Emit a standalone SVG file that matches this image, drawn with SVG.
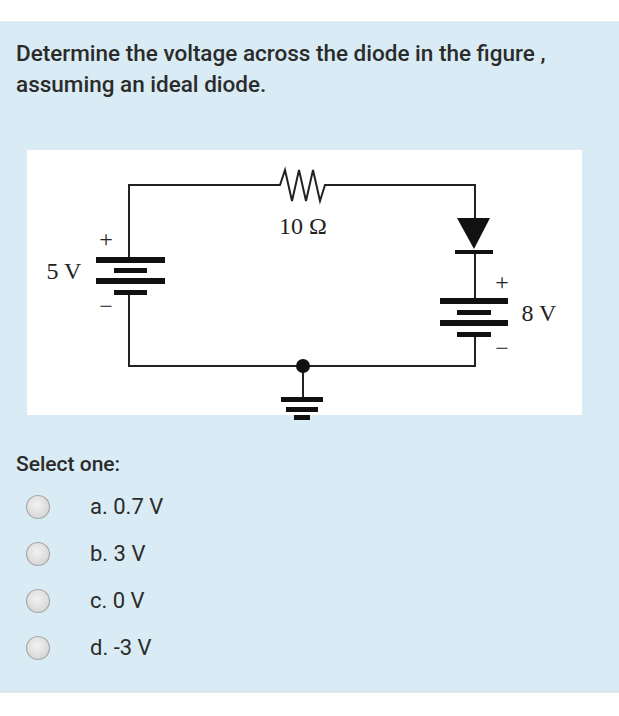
<svg xmlns="http://www.w3.org/2000/svg" width="619" height="716" viewBox="0 0 619 716">
<defs>
<style>
.q{font-family:Roboto,"Noto Sans",sans-serif;fill:#2b2b2b}
.t{font-family:"Liberation Serif",serif;fill:#222;font-size:24px}
.w{stroke:#222;stroke-width:2;fill:none}
.p{fill:#111}
</style>
<radialGradient id="rg" cx="0.45" cy="0.4" r="0.6"><stop offset="0" stop-color="#f2f2f2"/><stop offset="1" stop-color="#d6d6d6"/></radialGradient>
</defs>
<rect width="619" height="716" fill="#fff"/>
<rect x="0" y="22" width="619" height="670" fill="#d9ebf4"/>
<line x1="0" y1="22" x2="619" y2="22" stroke="#cfe0ea"/>
<line x1="0" y1="692" x2="619" y2="692" stroke="#c9d9e2"/>
<text class="q" x="16" y="61" font-size="22.5" font-weight="500">Determine the voltage across the diode in the figure ,</text>
<text class="q" x="16" y="92" font-size="22.5" font-weight="500">assuming an ideal diode.</text>
<rect x="27" y="150" width="555" height="265" fill="#fff"/>
<g id="wires">
<polyline class="w" points="129,260 129,185 275,185"/>
<polyline class="w" points="330,185 475,185 475,218"/>
<line class="w" x1="475" y1="252" x2="475" y2="301"/>
<polyline class="w" points="129,292 129,366 475,366 475,334"/>
<line class="w" x1="303" y1="366" x2="303" y2="399"/>
</g>
<g id="resistor"><polyline class="w" points="275,185 280,185 285,170 292,201 299,170 306,201 313,170 320,201 325,185 330,185"/>
<text class="t" x="303" y="234" text-anchor="middle">10 Ω</text></g>
<g id="battery5">
<rect class="p" x="96" y="257" width="69" height="6"/>
<rect class="p" x="114" y="268" width="33" height="5"/>
<rect class="p" x="96" y="278" width="69" height="6"/>
<rect class="p" x="114" y="290" width="33" height="5"/>
<text class="t" x="106" y="247" text-anchor="middle">+</text>
<text class="t" x="106" y="314" text-anchor="middle">−</text>
<text class="t" x="64" y="279" text-anchor="middle">5 V</text>
</g>
<g id="diode">
<polygon class="p" points="457,218 490,218 474,249"/>
<rect class="p" x="455" y="250" width="38" height="4"/>
</g>
<g id="battery8">
<rect class="p" x="440" y="298" width="68" height="6"/>
<rect class="p" x="457" y="310" width="34" height="5"/>
<rect class="p" x="440" y="320" width="68" height="6"/>
<rect class="p" x="457" y="332" width="34" height="5"/>
<text class="t" x="502" y="290" text-anchor="middle">+</text>
<text class="t" x="502" y="356" text-anchor="middle">−</text>
<text class="t" x="539" y="321" text-anchor="middle">8 V</text>
</g>
<g id="ground">
<circle class="p" cx="303" cy="366" r="7"/>
<rect class="p" x="281" y="397" width="42" height="5"/>
<rect class="p" x="286" y="407" width="32" height="5"/>
<rect class="p" x="294" y="415" width="16" height="5"/>
</g>
<text class="q" x="16" y="471" font-size="21" font-weight="500">Select one:</text>
<g id="options" fill="url(#rg)" stroke="#a8a8a8" stroke-width="1.2">
<circle cx="38" cy="507" r="11.5"/><circle cx="38" cy="554" r="11.5"/><circle cx="38" cy="601" r="11.5"/><circle cx="38" cy="648" r="11.5"/>
</g>
<text class="q" x="90" y="514" font-size="22">a. 0.7 V</text>
<text class="q" x="90" y="561" font-size="22">b. 3 V</text>
<text class="q" x="90" y="608" font-size="22">c. 0 V</text>
<text class="q" x="90" y="655" font-size="22">d. -3 V</text>
</svg>
